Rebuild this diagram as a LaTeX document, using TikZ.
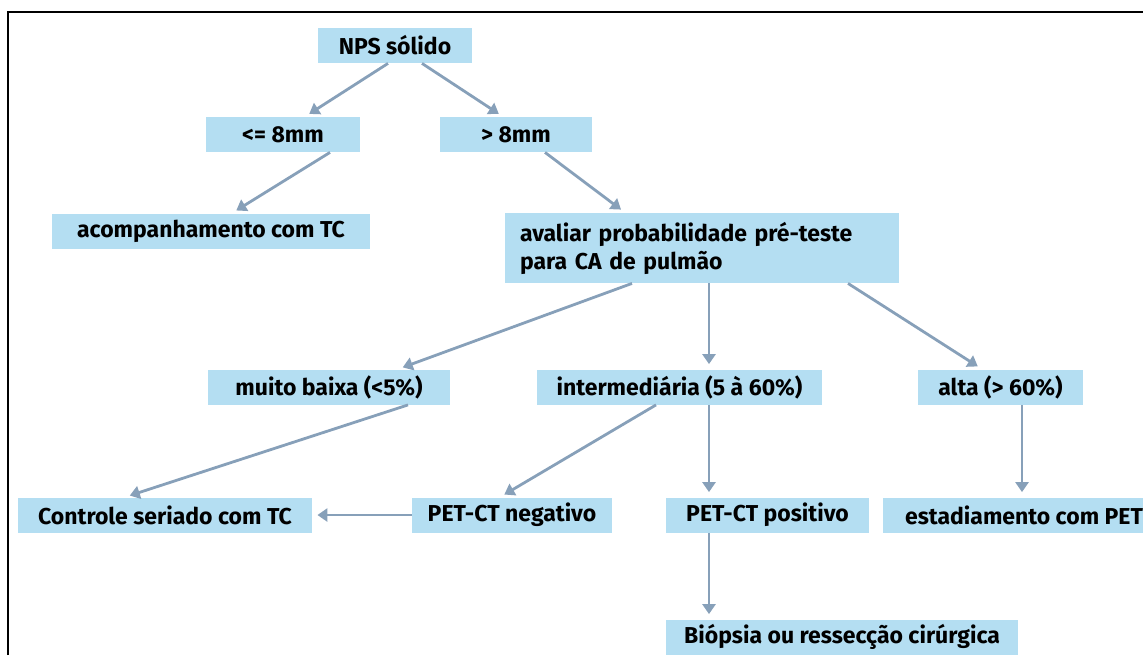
\documentclass[tikz,border=0pt]{standalone}
\usepackage{fontspec}
\setmainfont{Fira Sans}[BoldFont={Fira Sans Bold}]
\usepackage{tikz}
\usetikzlibrary{arrows.meta}

\definecolor{boxblue}{RGB}{180,222,242}
\definecolor{arrowgray}{RGB}{135,160,185}

\begin{document}
\begin{tikzpicture}[
  x=0.5pt, y=-0.5pt,
  box/.style={fill=boxblue, minimum height=17.5pt, inner sep=2pt, font=\bfseries\fontsize{11.5}{14}\selectfont},
  arr/.style={-{Triangle[length=5pt,width=6.5pt]}, line width=1.4pt, draw=arrowgray, shorten >=2.5pt}
]
\useasboundingbox (0,0) rectangle (1143,655);
\draw[line width=1pt] (8,655) -- (8,12) -- (1143,12);

\node[box, minimum width=77pt] (nps) at (395,45.5) {NPS sólido};
\node[box, minimum width=77pt] (le8) at (283,134.5) {<= 8mm};
\node[box, minimum width=76pt] (gt8) at (516,134.5) {> 8mm};
\node[box, minimum width=159pt] (acomp) at (211,231) {acompanhamento com TC};
\node[box, minimum width=197pt, minimum height=35pt, text width=182pt, inner xsep=7.5pt, align=left] (aval) at (702,248) {avaliar probabilidade pré-teste\\para CA de pulmão};
\node[box, minimum width=121pt] (baixa) at (329,387) {muito baixa (<5\%)};
\node[box, minimum width=142.5pt] (inter) at (679.5,387) {intermediária (5 à 60\%)};
\node[box, minimum width=82.5pt] (alta) at (1000.5,387) {alta (> 60\%)};
\node[box, minimum width=147pt] (ctrl) at (165,515) {Controle seriado com TC};
\node[box, minimum width=100pt] (neg) at (512,515) {PET-CT negativo};
\node[box, minimum width=101.5pt] (pos) at (767.5,515) {PET-CT positivo};
\node[box, minimum width=141pt] (estad) at (1024,515) {estadiamento com PET};
\node[box, minimum width=176pt] (bio) at (842,637) {Biópsia ou ressecção cirúrgica};

\draw[arr] ([xshift=-3.5pt]nps.south) -- ([xshift=11pt]le8.north);
\draw[arr] ([xshift=13.5pt]nps.south) -- ([xshift=-6.5pt]gt8.north);
\draw[arr] ([xshift=23.5pt]le8.south) -- ([xshift=10.5pt]acomp.north);
\draw[arr] ([xshift=14.5pt]gt8.south) -- ([xshift=-38.5pt]aval.north);
\draw[arr] ([xshift=-35pt]aval.south) -- ([xshift=34.5pt]baixa.north);
\draw[arr] ([xshift=3.5pt]aval.south) -- ([xshift=14.75pt]inter.north);
\draw[arr] ([xshift=73pt]aval.south) -- ([xshift=-9.25pt]alta.north);
\draw[arr] ([xshift=39.5pt]baixa.south) -- ([xshift=-20pt]ctrl.north);
\draw[arr] ([xshift=-11.75pt]inter.south) -- ([xshift=-6pt]neg.north);
\draw[arr] ([xshift=14.75pt]inter.south) -- ([xshift=-29.25pt]pos.north);
\draw[arr] ([xshift=10.75pt]alta.south) -- ([xshift=-1pt]estad.north);
\draw[arr] (neg.west) -- (ctrl.east);
\draw[arr] ([xshift=-29.25pt]pos.south) -- ([xshift=-66.5pt]bio.north);
\end{tikzpicture}
\end{document}
